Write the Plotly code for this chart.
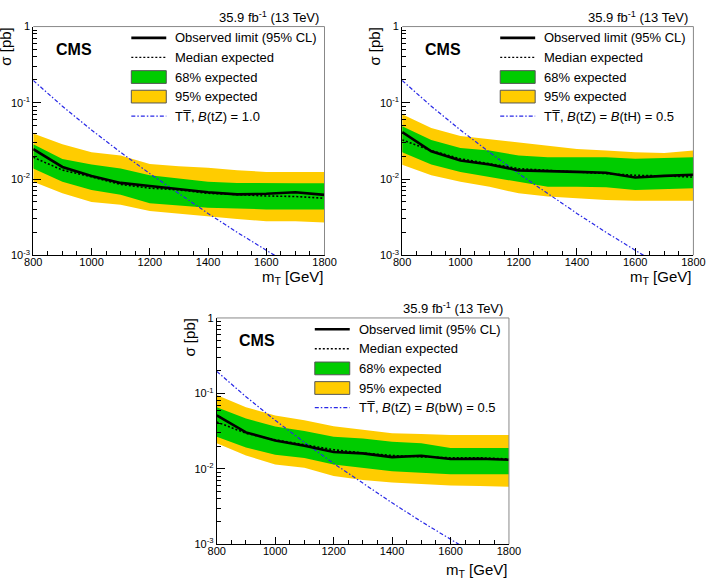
import plotly.graph_objects as go

W, H = 719, 585

masses = [800, 900, 1000, 1100, 1200, 1300, 1400, 1500, 1600, 1700, 1800]
theory_xsec = [0.196, 0.0903, 0.0440, 0.0224, 0.0118, 0.00639, 0.00354, 0.00200, 0.00115, 0.000669, 0.000395]

# Panel A: B(tZ) = 1.0
a_obs = [0.0247, 0.0144, 0.0110, 0.0089, 0.0081, 0.0074, 0.0067, 0.0063, 0.0064, 0.0067, 0.0062]
a_exp = [0.0193, 0.0131, 0.0107, 0.0085, 0.0076, 0.0072, 0.0065, 0.0062, 0.0060, 0.0059, 0.0056]
a_s1_hi = [0.0286, 0.0183, 0.0155, 0.0137, 0.0112, 0.0101, 0.0092, 0.0089, 0.0088, 0.0088, 0.0088]
a_s1_lo = [0.0137, 0.0092, 0.0072, 0.0062, 0.0048, 0.0045, 0.0042, 0.0041, 0.0040, 0.0040, 0.0040]
a_s2_hi = [0.0397, 0.0286, 0.0224, 0.0204, 0.0158, 0.0147, 0.0141, 0.0130, 0.0124, 0.0124, 0.0124]
a_s2_lo = [0.0092, 0.0065, 0.0050, 0.0046, 0.0038, 0.0035, 0.0032, 0.0030, 0.0028, 0.0028, 0.0027]

# Panel B: B(tZ) = B(tH) = 0.5
b_obs = [0.0413, 0.0231, 0.0175, 0.0155, 0.0130, 0.0128, 0.0124, 0.0121, 0.0105, 0.0110, 0.0114]
b_exp = [0.0326, 0.0236, 0.0184, 0.0158, 0.0137, 0.0130, 0.0124, 0.0118, 0.0112, 0.0110, 0.0106]
b_s1_hi = [0.0493, 0.0326, 0.0255, 0.0236, 0.0204, 0.0193, 0.0193, 0.0193, 0.0185, 0.0190, 0.0193]
b_s1_lo = [0.0224, 0.0155, 0.0124, 0.0107, 0.0092, 0.0079, 0.0079, 0.0078, 0.0072, 0.0074, 0.0076]
b_s2_hi = [0.0710, 0.0469, 0.0366, 0.0332, 0.0300, 0.0273, 0.0248, 0.0236, 0.0224, 0.0220, 0.0236]
b_s2_lo = [0.0154, 0.0112, 0.0092, 0.0079, 0.0065, 0.0059, 0.0056, 0.0053, 0.0052, 0.0052, 0.0052]

# Panel C: B(tZ) = B(bW) = 0.5
c_obs = [0.0511, 0.0304, 0.0237, 0.0202, 0.0167, 0.0160, 0.0143, 0.0149, 0.0135, 0.0136, 0.0132]
c_exp = [0.0418, 0.0296, 0.0242, 0.0209, 0.0179, 0.0162, 0.0150, 0.0144, 0.0140, 0.0140, 0.0135]
c_s1_hi = [0.0657, 0.0463, 0.0363, 0.0316, 0.0267, 0.0253, 0.0229, 0.0218, 0.0189, 0.0189, 0.0189]
c_s1_lo = [0.0267, 0.0192, 0.0154, 0.0139, 0.0114, 0.0103, 0.0093, 0.0089, 0.0085, 0.0085, 0.0085]
c_s2_hi = [0.0950, 0.0657, 0.0511, 0.0440, 0.0368, 0.0333, 0.0296, 0.0290, 0.0281, 0.0281, 0.0281]
c_s2_lo = [0.0218, 0.0150, 0.0114, 0.0103, 0.0080, 0.0071, 0.0066, 0.0063, 0.0060, 0.0059, 0.0058]

legend_labels = ["Observed limit (95% CL)", "Median expected", "68% expected", "95% expected"]
theory_labels = [
    "TT\u0305, <i>B</i>(tZ) = 1.0",
    "TT\u0305, <i>B</i>(tZ) = <i>B</i>(tH) = 0.5",
    "TT\u0305, <i>B</i>(tZ) = <i>B</i>(bW) = 0.5",
]
x_ticks = [800, 1000, 1200, 1400, 1600, 1800]
y_ticks = [0.001, 0.01, 0.1, 1]
y_ticktext = ["10<sup>-3</sup>", "10<sup>-2</sup>", "10<sup>-1</sup>", "1"]
lumi_text = "35.9 fb<sup>-1</sup> (13 TeV)"

GREEN = "#00cc00"
YELLOW = "#ffcc00"
BLUE = "#2828e6"
FONT = "Liberation Sans, Arial, Helvetica, sans-serif"
DASHDOT = "4px,2px,1.5px,2px"
DOTTED = "2px,2px"

# frame boxes in pixels (left, top, right, bottom)
boxes = [(25, 21, 325, 254.5), (405, 21, 705, 254.5), (214, 318.5, 515, 549.5)]
xtitle_off = [23, 23, 27]

panels = [
    (a_obs, a_exp, a_s1_lo, a_s1_hi, a_s2_lo, a_s2_hi),
    (b_obs, b_exp, b_s1_lo, b_s1_hi, b_s2_lo, b_s2_hi),
    (c_obs, c_exp, c_s1_lo, c_s1_hi, c_s2_lo, c_s2_hi),
]


def px(x):
    return x / W


def py(y):
    return 1 - y / H


fig = go.Figure()
shapes = []
annotations = []
minor_vals = [m * 10 ** e for e in (-3, -2, -1) for m in range(2, 10)]

for i, (obs, exp, s1lo, s1hi, s2lo, s2hi) in enumerate(panels):
    sfx = "" if i == 0 else str(i + 1)
    xa, ya = "x" + sfx, "y" + sfx
    common = dict(xaxis=xa, yaxis=ya, x=masses, hoverinfo="skip", showlegend=False)
    fig.add_trace(go.Scatter(y=s2lo, mode="lines", line=dict(width=0, color=YELLOW), **common))
    fig.add_trace(go.Scatter(y=s2hi, mode="lines", line=dict(width=0, color=YELLOW),
                             fill="tonexty", fillcolor=YELLOW, **common))
    fig.add_trace(go.Scatter(y=s1lo, mode="lines", line=dict(width=0, color=GREEN), **common))
    fig.add_trace(go.Scatter(y=s1hi, mode="lines", line=dict(width=0, color=GREEN),
                             fill="tonexty", fillcolor=GREEN, **common))
    fig.add_trace(go.Scatter(y=theory_xsec, mode="lines",
                             line=dict(color=BLUE, width=1.2, dash=DASHDOT), **common))
    fig.add_trace(go.Scatter(y=exp, mode="lines",
                             line=dict(color="black", width=1.6, dash=DOTTED), **common))
    fig.add_trace(go.Scatter(y=obs, mode="lines",
                             line=dict(color="black", width=2.6), **common))

    L, T, R, B = boxes[i]
    fig.update_layout(**{
        "xaxis" + sfx: dict(
            domain=[px(L), px(R)], anchor=ya, range=[800, 1800],
            tickmode="array", tickvals=x_ticks, ticks="inside", ticklen=7,
            tickcolor="black", showline=True, linecolor="black", linewidth=1,
            showgrid=False, zeroline=False, ticklabelstandoff=-3,
            tickfont=dict(family=FONT, size=11, color="black"),
            minor=dict(ticks="inside", ticklen=4, dtick=50, tickcolor="black", showgrid=False),
        ),
        "yaxis" + sfx: dict(
            domain=[py(B), py(T)], anchor=xa, type="log", range=[-3, 0],
            tickmode="array", tickvals=y_ticks, ticktext=y_ticktext,
            ticks="inside", ticklen=8, tickcolor="black",
            showline=True, linecolor="black", linewidth=1,
            showgrid=False, zeroline=False,
            tickfont=dict(family=FONT, size=11, color="black"),
            minor=dict(ticks="inside", ticklen=4, tickvals=minor_vals, tickcolor="black", showgrid=False),
        ),
    })

    # top/right frame
    shapes.append(dict(type="line", xref="paper", yref="paper", x0=px(L), x1=px(R), y0=py(T), y1=py(T),
                       line=dict(color="#888888", width=1)))
    shapes.append(dict(type="line", xref="paper", yref="paper", x0=px(R), x1=px(R), y0=py(T), y1=py(B),
                       line=dict(color="#888888", width=1)))

    # legend
    sx0, sx1, tx = L + 101, L + 137, L + 144
    rows = [T + 11.5 + 20 * k for k in range(5)]
    shapes.append(dict(type="line", xref="paper", yref="paper", x0=px(sx0), x1=px(sx1),
                       y0=py(rows[0]), y1=py(rows[0]), line=dict(color="black", width=2.6)))
    shapes.append(dict(type="line", xref="paper", yref="paper", x0=px(sx0), x1=px(sx1),
                       y0=py(rows[1]), y1=py(rows[1]), line=dict(color="black", width=1.4, dash=DOTTED)))
    for k, col in ((2, GREEN), (3, YELLOW)):
        shapes.append(dict(type="rect", xref="paper", yref="paper", x0=px(sx0), x1=px(sx1),
                           y0=py(rows[k] + 6.5), y1=py(rows[k] - 6.5), fillcolor=col,
                           line=dict(color="#555555", width=1)))
    shapes.append(dict(type="line", xref="paper", yref="paper", x0=px(sx0), x1=px(sx1),
                       y0=py(rows[4]), y1=py(rows[4]), line=dict(color=BLUE, width=1.2, dash=DASHDOT)))
    labels = legend_labels + [theory_labels[i]]
    for k, lab in enumerate(labels):
        annotations.append(dict(text=lab, xref="paper", yref="paper", x=px(tx), y=py(rows[k]),
                                xanchor="left", yanchor="middle", showarrow=False,
                                font=dict(family=FONT, size=13, color="black")))

    # CMS label
    annotations.append(dict(text="<b>CMS</b>", xref="paper", yref="paper", x=px(L + 21), y=py(T + 23),
                            xanchor="left", yanchor="middle", showarrow=False,
                            font=dict(family=FONT, size=16, color="black")))
    # lumi
    annotations.append(dict(text=lumi_text, xref="paper", yref="paper", x=px(R - 4), y=py(T - 10),
                            xanchor="right", yanchor="middle", showarrow=False,
                            font=dict(family=FONT, size=13, color="black")))
    # x title
    annotations.append(dict(text="m<sub>T</sub> [GeV]", xref="paper", yref="paper", x=px(R),
                            y=py(B + xtitle_off[i]), xanchor="right", yanchor="middle", showarrow=False,
                            font=dict(family=FONT, size=15, color="black")))
    # y title
    annotations.append(dict(text="σ [pb]", xref="paper", yref="paper", x=px(L - 28), y=py(T - 1),
                            xanchor="center", yanchor="top", textangle=-90, showarrow=False,
                            font=dict(family=FONT, size=15, color="black")))

fig.update_layout(
    width=W, height=H, margin=dict(l=0, r=0, t=0, b=0),
    paper_bgcolor="white", plot_bgcolor="white",
    showlegend=False, shapes=shapes, annotations=annotations,
    font=dict(family=FONT),
)

fig.write_html("out.html")
